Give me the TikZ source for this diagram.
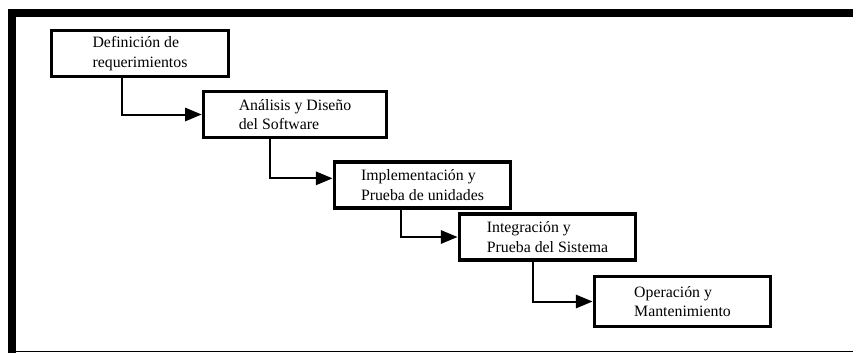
\documentclass[tikz,border=0pt]{standalone}
\usepackage{fontspec}
\setmainfont{Liberation Serif}
\usetikzlibrary{arrows.meta,positioning,calc}

\begin{document}
\begin{tikzpicture}[x=0.03cm,y=-0.03cm,font=\fontsize{13.5}{16.5}\selectfont,
 box/.style={draw=black,line width=2.8pt,fill=white,minimum width=5.3cm,minimum height=1.38cm,align=left,inner sep=2pt},
 arr/.style={-{Triangle[length=5mm,width=4mm]},line width=1.7pt}]
\useasboundingbox[fill=white] (0,0) rectangle (853,353);
% marco
\fill[black] (8,9) rectangle (853,17);
\fill[black] (8,9) rectangle (16,353);
\draw[line width=0.8pt] (16,351) -- (853,351);
% etapas
\node[box] (def) at (140,53.5) {Definición de\\requerimientos};
\node[box,minimum width=5.5cm] (ana) at (295,114.5) {Análisis y Diseño\\del Software};
\node[box] (imp) at (422.5,185) {Implementación y\\Prueba de unidades};
\node[box] (int) at (547.5,237) {Integración y\\Prueba del Sistema};
\node[box,minimum height=1.5cm] (ope) at (682.5,301.5) {Operación y\\Mantenimiento};
\draw[arr] ([xshift=-0.54cm]def.south) |- (ana.west);
\draw[arr] ([xshift=-0.75cm]ana.south) |- ([yshift=0.2cm]imp.west);
\draw[arr] ([xshift=-0.66cm]imp.south) |- (int.west);
\draw[arr] ([xshift=-0.45cm]int.south) |- (ope.west);
\end{tikzpicture}
\end{document}
